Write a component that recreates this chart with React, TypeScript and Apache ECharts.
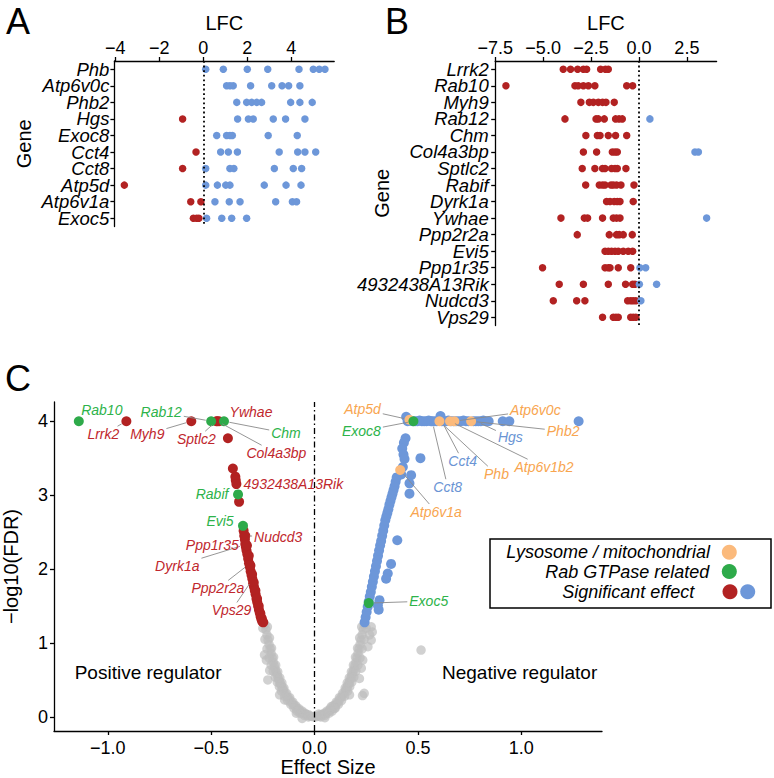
import React, { useEffect, useRef } from 'react';
import * as echarts from 'echarts';

const FONT = '"Liberation Sans", Arial, Helvetica, sans-serif';
const RED = '#B22222';
const BLUE = '#6D97D9';
const GREEN = '#2EAA4A';
const ORANGE = '#FBBA7C';
const GREY = '#BDBDBD';
const TXT_COLORS: Record<string, string> = { red: '#C0272D', blue: '#6A94D4', green: '#2DB34A', orange: '#F8A54F' };

// ---------------- Panel A ----------------
const aGenes = ['Phb', 'Atp6v0c', 'Phb2', 'Hgs', 'Exoc8', 'Cct4', 'Cct8', 'Atp5d', 'Atp6v1a', 'Exoc5'];
const aBlue = [
  [0.11, 0.91, 2.0, 2.93, 4.35, 5.0, 5.27, 5.53],
  [1.06, 1.21, 1.36, 2.15, 3.11, 3.58, 3.88, 4.39],
  [1.52, 1.97, 2.2, 2.43, 2.65, 3.97, 4.39, 4.95],
  [1.56, 2.05, 2.27, 3.18, 3.74, 4.62],
  [0.61, 1.06, 1.21, 1.32, 2.95, 4.27],
  [0.79, 1.14, 1.55, 3.45, 4.29, 4.62, 5.11],
  [0.11, 1.21, 1.39, 3.23, 4.09, 4.47],
  [0.11, 0.64, 1.02, 1.21, 2.77, 3.76, 4.44],
  [0.53, 1.18, 1.67, 3.29, 4.05, 4.24],
  [0.15, 0.84, 1.29, 1.97],
];
const aRed = [[], [], [], [-0.94], [], [-0.33], [-0.94], [-3.59], [-0.57, -0.11], [-0.45, -0.3, -0.2]];
const aTicks = [-4, -2, 0, 2, 4];

// ---------------- Panel B ----------------
const bGenes = ['Lrrk2', 'Rab10', 'Myh9', 'Rab12', 'Chm', 'Col4a3bp', 'Sptlc2', 'Rabif', 'Dyrk1a', 'Ywhae', 'Ppp2r2a', 'Evi5', 'Ppp1r35', '4932438A13Rik', 'Nudcd3', 'Vps29'];
const bRed = [
  [-3.95, -3.57, -3.2, -2.9, -2.73, -2.0, -1.75, -1.6],
  [-6.94, -3.34, -3.17, -2.9, -2.64, -2.3, -0.64, -0.33],
  [-3.03, -2.59, -2.38, -2.12, -1.9, -1.72, -1.29],
  [-3.86, -2.24, -2.12, -1.81, -1.22, -1.04, -0.87],
  [-2.77, -2.17, -2.03, -1.6, -1.22, -0.64],
  [-2.9, -2.21, -1.39, -1.25, -1.13],
  [-2.96, -2.3, -1.9, -1.77, -1.43, -1.25, -1.13, -0.68],
  [-2.78, -2.07, -1.9, -1.77, -1.46, -1.34, -1.17, -0.94, -0.26],
  [-1.69, -1.51, -1.29, -1.13, -0.99, -0.3],
  [-4.07, -2.85, -2.68, -1.9, -1.34, -1.17, -0.99],
  [-3.22, -1.55, -1.17, -1.03, -0.82, -0.35],
  [-1.77, -1.6, -1.43, -1.25, -1.08, -0.82, -0.56, -0.33],
  [-5.03, -1.77, -1.6, -1.51, -1.08, -0.43],
  [-4.16, -2.9, -1.6, -0.7, -0.33, -0.21],
  [-4.47, -3.25, -2.82, -0.59, -0.43, -0.3, -0.16],
  [-1.9, -1.34, -1.2, -1.08, -0.43, -0.3, -0.16],
];
const bBlue = [[], [], [], [0.57], [], [2.92, 3.1], [], [], [], [3.53], [], [], [0.05, 0.35], [0.02, 0.92], [0.1], []];
const bTicks = [-7.5, -5, -2.5, 0, 2.5];

// ---------------- Panel C (volcano) ----------------
const cGrey = [
  // left arm
  [-0.24, 1.25], [-0.235, 1.18], [-0.23, 1.11], [-0.225, 1.04], [-0.22, 0.98], [-0.215, 0.92], [-0.21, 0.86], [-0.205, 0.8],
  [-0.2, 0.74], [-0.195, 0.69], [-0.19, 0.64], [-0.185, 0.6], [-0.18, 0.56], [-0.175, 0.52], [-0.17, 0.48], [-0.165, 0.45],
  [-0.16, 0.42], [-0.155, 0.39], [-0.15, 0.36], [-0.14, 0.31], [-0.13, 0.27], [-0.12, 0.23], [-0.11, 0.19], [-0.1, 0.16],
  [-0.09, 0.13], [-0.08, 0.1], [-0.07, 0.08], [-0.06, 0.06], [-0.05, 0.045], [-0.04, 0.03], [-0.03, 0.02], [-0.02, 0.01], [-0.01, 0.005], [0, 0],
  [-0.228, 1.22], [-0.218, 1.07], [-0.208, 0.93], [-0.198, 0.81], [-0.188, 0.7], [-0.178, 0.61], [-0.168, 0.53], [-0.158, 0.46],
  [-0.148, 0.39], [-0.135, 0.32], [-0.12, 0.26], [-0.105, 0.2], [-0.09, 0.15], [-0.075, 0.11], [-0.06, 0.08], [-0.045, 0.05], [-0.03, 0.03],
  [-0.25, 1.2], [-0.24, 1.05], [-0.23, 0.92], [-0.22, 0.8], [-0.21, 0.7], [-0.2, 0.62], [-0.19, 0.54], [-0.18, 0.47], [-0.17, 0.41],
  [-0.16, 0.35], [-0.145, 0.28], [-0.13, 0.22], [-0.115, 0.17], [-0.1, 0.12], [-0.085, 0.08], [-0.07, 0.05], [-0.05, 0.02], [-0.03, 0.0],
  // right arm
  [0.24, 1.25], [0.235, 1.18], [0.23, 1.11], [0.225, 1.04], [0.22, 0.98], [0.215, 0.92], [0.21, 0.86], [0.205, 0.8],
  [0.2, 0.74], [0.195, 0.69], [0.19, 0.64], [0.185, 0.6], [0.18, 0.56], [0.175, 0.52], [0.17, 0.48], [0.165, 0.45],
  [0.16, 0.42], [0.155, 0.39], [0.15, 0.36], [0.14, 0.31], [0.13, 0.27], [0.12, 0.23], [0.11, 0.19], [0.1, 0.16],
  [0.09, 0.13], [0.08, 0.1], [0.07, 0.08], [0.06, 0.06], [0.05, 0.045], [0.04, 0.03], [0.03, 0.02], [0.02, 0.01], [0.01, 0.005],
  [0.228, 1.22], [0.218, 1.07], [0.208, 0.93], [0.198, 0.81], [0.188, 0.7], [0.178, 0.61], [0.168, 0.53], [0.158, 0.46],
  [0.148, 0.39], [0.135, 0.32], [0.12, 0.26], [0.105, 0.2], [0.09, 0.15], [0.075, 0.11], [0.06, 0.08], [0.045, 0.05], [0.03, 0.03],
  [0.25, 1.2], [0.24, 1.05], [0.23, 0.92], [0.22, 0.8], [0.21, 0.7], [0.2, 0.62], [0.19, 0.54], [0.18, 0.47], [0.17, 0.41],
  [0.16, 0.35], [0.145, 0.28], [0.13, 0.22], [0.115, 0.17], [0.1, 0.12], [0.085, 0.08], [0.07, 0.05], [0.05, 0.02], [0.03, 0.0],
  // scattered
  [0.515, 0.905], [0.274, 1.22], [0.279, 1.15], [0.266, 1.11], [0.274, 1.04], [0.258, 0.95], [0.233, 0.77], [0.226, 0.66],
  [0.217, 0.52], [0.24, 0.32], [0.232, 0.29], [0.169, 0.3], [0.097, 0.12], [0.081, 0.14], [-0.242, 0.84], [-0.233, 0.77],
  [-0.217, 0.63], [-0.226, 0.5], [-0.169, 0.3], [-0.145, 0.23], [-0.088, 0.05], [-0.06, -0.02], [0.05, -0.01], [0.02, 0.04],
];
const cRed = [
  [-0.91, 4.0], [-0.596, 4.0], [-0.475, 4.0], [-0.47, 4.0], [-0.462, 4.0], [-0.419, 3.77],
  [-0.395, 3.36], [-0.383, 3.25], [-0.381, 3.2], [-0.378, 3.15], [-0.365, 2.91],
  [-0.343, 2.52], [-0.34, 2.45], [-0.337, 2.4], [-0.335, 2.34], [-0.332, 2.3], [-0.329, 2.25], [-0.325, 2.2], [-0.321, 2.14],
  [-0.317, 2.08], [-0.313, 2.03], [-0.309, 1.97], [-0.305, 1.92], [-0.301, 1.87], [-0.297, 1.81], [-0.293, 1.76], [-0.289, 1.71],
  [-0.285, 1.66], [-0.281, 1.6], [-0.277, 1.55], [-0.273, 1.5], [-0.269, 1.45], [-0.265, 1.41], [-0.261, 1.36], [-0.257, 1.32], [-0.253, 1.29],
  [-0.335, 2.45], [-0.327, 2.32], [-0.318, 2.18], [-0.31, 2.05], [-0.302, 1.93], [-0.294, 1.82], [-0.286, 1.71], [-0.278, 1.6],
  [-0.27, 1.5], [-0.262, 1.4], [-0.255, 1.33], [-0.248, 1.28],
];
const cBlue = [
  // top row
  [0.443, 4.06], [0.45, 4.0], [0.462, 4.01], [0.475, 4.0], [0.486, 4.0], [0.497, 4.0], [0.508, 4.01], [0.519, 4.0], [0.53, 4.0],
  [0.541, 4.0], [0.552, 4.01], [0.563, 4.0], [0.569, 4.0], [0.58, 4.0], [0.591, 4.0], [0.609, 4.07], [0.615, 4.0], [0.625, 4.0],
  [0.636, 4.0], [0.647, 4.01], [0.66, 4.0], [0.672, 4.0], [0.684, 4.0], [0.696, 4.0], [0.708, 4.0], [0.72, 4.01], [0.732, 4.0],
  [0.744, 4.0], [0.768, 4.0], [0.78, 4.0], [0.792, 4.0], [0.804, 4.0], [0.816, 4.01], [0.828, 4.0], [0.842, 4.0], [0.91, 4.0],
  [0.942, 4.0], [1.277, 4.0],
  // column below the top row
  [0.44, 3.77], [0.432, 3.71], [0.424, 3.63], [0.43, 3.55], [0.435, 3.49], [0.427, 3.38], [0.419, 3.28], [0.512, 3.5],
  [0.467, 3.27], [0.459, 3.16], [0.459, 3.02],
  // isolated
  [0.4, 2.39], [0.37, 2.07], [0.354, 1.94], [0.346, 1.87], [0.314, 1.58], [0.306, 1.51], [0.31, 1.45],
  // band
  [0.242, 1.28], [0.247, 1.35], [0.252, 1.42], [0.257, 1.49], [0.262, 1.56], [0.267, 1.63], [0.272, 1.69], [0.277, 1.76],
  [0.282, 1.83], [0.287, 1.9], [0.292, 1.97], [0.297, 2.04], [0.302, 2.11], [0.307, 2.18], [0.312, 2.25], [0.317, 2.32],
  [0.322, 2.38], [0.327, 2.45], [0.332, 2.52], [0.337, 2.59], [0.342, 2.66], [0.347, 2.71], [0.352, 2.76], [0.357, 2.81],
  [0.362, 2.87], [0.367, 2.92], [0.372, 2.97], [0.377, 3.02], [0.382, 3.07], [0.387, 3.12], [0.392, 3.18], [0.397, 3.24],
];
const cOrange = [[0.459, 4.02], [0.604, 4.0], [0.655, 4.0], [0.676, 4.0], [0.757, 4.0], [0.414, 3.34]];
const cGreen = [[-1.14, 4.0], [-0.5, 4.0], [-0.438, 4.0], [-0.37, 3.01], [-0.346, 2.585], [0.478, 4.0], [0.262, 1.54]];
const cxTicks = [-1, -0.5, 0, 0.5, 1];
const cyTicks = [0, 1, 2, 3, 4];

// labelled genes in panel C
const cLabelGenes = ['Rab10', 'Lrrk2', 'Myh9', 'Rab12', 'Ywhae', 'Sptlc2', 'Chm', 'Col4a3bp', '4932438A13Rik', 'Rabif', 'Evi5',
  'Nudcd3', 'Ppp1r35', 'Dyrk1a', 'Ppp2r2a', 'Vps29', 'Atp5d', 'Exoc8', 'Atp6v0c', 'Phb2', 'Hgs', 'Cct4', 'Cct8', 'Phb',
  'Atp6v1b2', 'Atp6v1a', 'Exoc5'];
const cLabelX = [-1.14, -0.91, -0.596, -0.5, -0.462, -0.475, -0.438, -0.47, -0.378, -0.37, -0.346, -0.34, -0.342, -0.335,
  -0.315, -0.3, 0.459, 0.478, 0.676, 0.757, 0.78, 0.615, 0.569, 0.604, 0.655, 0.414, 0.262];
const cLabelY = [4, 4, 4, 4, 4, 4, 4, 4, 3.15, 3.01, 2.585, 2.45, 2.4, 2.33, 2.07, 1.86, 4.02, 4, 4, 4, 4, 4, 4, 4, 4, 3.34, 1.54];
const cLabelGroup = ['green', 'red', 'red', 'green', 'red', 'red', 'green', 'red', 'red', 'green', 'green', 'red', 'red', 'red',
  'red', 'red', 'orange', 'green', 'orange', 'orange', 'blue', 'blue', 'blue', 'orange', 'orange', 'orange', 'green'];
// label placement (pixel offsets of label centre from its point) and whether a leader line is drawn
const cLabelOffset = [[23, -11], [-23, 13], [-44, 13], [-50, -9], [32, -9], [-20, 18], [62, 12], [59, 32], [57, 0], [-26, 0],
  [-23, -5], [34, 1], [-31.5, 5], [-68, 21], [-31.5, 24.5], [-21, 31], [-47, -10.5], [-52, 10], [81, -11], [92, 10],
  [34.5, 16], [21, 40], [15.5, 66], [57, 53], [94, 46], [36, 42], [60, -2]];
const cLabelLine = [false, true, true, true, false, true, true, true, false, false, false, true, false, true, true, true,
  true, true, true, true, true, true, true, true, true, true, true];

const legendItems = ['Lysosome / mitochondrial', 'Rab GTPase related', 'Significant effect'];

const fmtInt = (v: number) => (v < 0 ? '\u2212' + Math.abs(v) : String(v));
const fmt1 = (v: number) => (v < 0 ? '\u2212' + Math.abs(v).toFixed(1) : v.toFixed(1));

const AXIS_LINE = { color: '#000', width: 1.3 };

function valueAxis(gridIndex: number, min: number, max: number, ticks: number[], fmt: (v: number) => string,
  position: string, name: string, nameGap: number, margin: number, rotateName = false) {
  return {
    gridIndex, type: 'value', position, min, max, name, nameLocation: 'middle', nameGap,
    nameRotate: rotateName ? 90 : 0, nameMoveOverlap: false,
    nameTextStyle: { fontSize: 20, color: '#000', fontFamily: FONT },
    axisLine: { show: true, onZero: false, lineStyle: AXIS_LINE },
    axisTick: { show: true, length: 4, customValues: ticks, lineStyle: AXIS_LINE },
    axisLabel: { customValues: ticks, formatter: fmt, fontSize: 18, color: '#000', fontFamily: FONT, margin },
    splitLine: { show: false },
  };
}

function catAxis(gridIndex: number, genes: string[], nameGap: number, margin: number) {
  return {
    gridIndex, type: 'category', data: genes, inverse: true, boundaryGap: true,
    name: 'Gene', nameLocation: 'middle', nameGap, nameRotate: 90, nameMoveOverlap: false,
    nameTextStyle: { fontSize: 20, color: '#000', fontFamily: FONT },
    axisLine: { show: true, onZero: false, lineStyle: AXIS_LINE },
    axisTick: { show: true, length: 4, alignWithLabel: true, lineStyle: AXIS_LINE },
    axisLabel: { interval: 0, fontSize: 18.5, lineHeight: 15, fontStyle: 'italic', color: '#000', fontFamily: FONT, margin },
    splitLine: { show: false },
  };
}

function pairs(genes: string[], vals: number[][]) {
  const out: any[] = [];
  genes.forEach((g, i) => vals[i].forEach((v) => out.push([v, g])));
  return out;
}

function buildOption() {
  const dotted = {
    silent: true, symbol: ['none', 'none'], label: { show: false },
    lineStyle: { type: [1.8, 2.8], color: '#000', width: 1.8 }, data: [{ xAxis: 0 }],
  };
  const scat = (x: number, data: any[], color: string, size: number, extra: any = {}) => ({
    type: 'scatter', xAxisIndex: x, yAxisIndex: x, data, symbolSize: size,
    itemStyle: { color, opacity: 1 }, emphasis: { disabled: true }, ...extra,
  });
  return {
    animation: false,
    textStyle: { fontFamily: FONT },
    grid: [
      { left: 114.4, top: 61, width: 219.8, height: 165.5, outerBoundsMode: 'none', containLabel: false },
      { left: 495.2, top: 61, width: 221.4, height: 264.6, outerBoundsMode: 'none', containLabel: false },
      { left: 54, top: 402, width: 548, height: 329, outerBoundsMode: 'none', containLabel: false },
    ],
    xAxis: [
      valueAxis(0, -4.04, 5.95, aTicks, fmtInt, 'top', 'LFC', 28, 4),
      valueAxis(1, -7.5, 4.05, bTicks, fmt1, 'top', 'LFC', 28, 4),
      valueAxis(2, -1.26, 1.39, cxTicks, fmt1, 'bottom', 'Effect Size', 26, 8),
    ],
    yAxis: [
      catAxis(0, aGenes, 80, 5),
      catAxis(1, bGenes, 103, 6.5),
      valueAxis(2, -0.19, 4.26, cyTicks, fmtInt, 'left', '\u2212log10(FDR)', 33, 6, true),
    ],
    series: [
      scat(0, pairs(aGenes, aRed), RED, 7.5, { markLine: dotted }),
      scat(0, pairs(aGenes, aBlue), BLUE, 7.5),
      scat(1, pairs(bGenes, bRed), RED, 7.5, { markLine: dotted }),
      scat(1, pairs(bGenes, bBlue), BLUE, 7.5),
      scat(2, cGrey, GREY, 9.5, {
        itemStyle: { color: GREY, opacity: 0.7 },
        markLine: {
          silent: true, symbol: ['none', 'none'], label: { show: false },
          lineStyle: { type: [6, 3, 1.5, 3], color: '#000', width: 1.3 }, data: [{ xAxis: 0 }],
        },
      }),
      scat(2, cRed, RED, 10),
      scat(2, cBlue, BLUE, 10),
      scat(2, cOrange, ORANGE, 10),
      scat(2, cGreen, GREEN, 10),
    ],
  };
}

function buildGraphic(chart: any) {
  const g: any[] = [];
  const text = (t: string, x: number, y: number, style: any = {}) => ({
    type: 'text', x, y, z: 100, silent: true,
    style: { text: t, fill: '#000', fontFamily: FONT, fontSize: 18, align: 'center', verticalAlign: 'middle', ...style },
  });
  g.push(text('A', 18, 21, { fontSize: 36 }));
  g.push(text('B', 397, 21, { fontSize: 36 }));
  g.push(text('C', 18, 378, { fontSize: 36 }));

  // region annotations
  const pos = chart.convertToPixel({ gridIndex: 2 }, [-1.16, 0.6]);
  g.push(text('Positive regulator', pos[0], pos[1], { align: 'left', fontSize: 19 }));
  const neg = chart.convertToPixel({ gridIndex: 2 }, [1.367, 0.6]);
  g.push(text('Negative regulator', neg[0], neg[1], { align: 'right', fontSize: 19 }));

  // gene labels with leader lines
  const ctx = document.createElement('canvas').getContext('2d') as CanvasRenderingContext2D;
  ctx.font = 'italic 14px ' + FONT;
  cLabelGenes.forEach((name, i) => {
    const p = chart.convertToPixel({ gridIndex: 2 }, [cLabelX[i], cLabelY[i]]);
    const [dx, dy] = cLabelOffset[i];
    const lx = p[0] + dx;
    const ly = p[1] + dy;
    if (cLabelLine[i]) {
      const w = ctx.measureText(name).width;
      const hw = w / 2 + 2;
      const hh = 8;
      const len = Math.hypot(dx, dy);
      const t = Math.min(dx !== 0 ? hw / Math.abs(dx) : Infinity, dy !== 0 ? hh / Math.abs(dy) : Infinity);
      const ex = lx - dx * t;
      const ey = ly - dy * t;
      const sx = p[0] + (dx / len) * 5.5;
      const sy = p[1] + (dy / len) * 5.5;
      if (t < 1 && Math.hypot(ex - p[0], ey - p[1]) > 7) {
        g.push({ type: 'line', z: 95, silent: true, shape: { x1: sx, y1: sy, x2: ex, y2: ey }, style: { stroke: '#8A8A8A', lineWidth: 0.9 } });
      }
    }
    g.push(text(name, lx, ly, { fontSize: 14, lineHeight: 13, fontStyle: 'italic', fill: TXT_COLORS[cLabelGroup[i]] }));
  });

  // legend
  g.push({ type: 'rect', z: 90, silent: true, shape: { x: 490, y: 539, width: 281, height: 69 }, style: { fill: '#fff', stroke: '#000', lineWidth: 1.5 } });
  g.push(text(legendItems[0], 710, 552.3, { align: 'right', fontStyle: 'italic' }));
  g.push(text(legendItems[1], 709.3, 571.7, { align: 'right', fontStyle: 'italic' }));
  g.push(text(legendItems[2], 694.3, 591.7, { align: 'right', fontStyle: 'italic' }));
  const circ = (cx: number, cy: number, fill: string) => ({ type: 'circle', z: 100, silent: true, shape: { cx, cy, r: 7.5 }, style: { fill } });
  g.push(circ(729.3, 552.3, ORANGE));
  g.push(circ(729.3, 571.5, GREEN));
  g.push(circ(730, 591.7, RED));
  g.push(circ(747.7, 591.7, BLUE));
  return g;
}

export default function App() {
  const ref = useRef<HTMLDivElement>(null);
  useEffect(() => {
    const chart = echarts.init(ref.current as HTMLDivElement, null, { renderer: 'svg' });
    chart.setOption(buildOption() as any);
    chart.setOption({ graphic: buildGraphic(chart) } as any);
    return () => chart.dispose();
  }, []);
  return <div ref={ref} style={{ position: 'absolute', left: 0, top: 0, width: 774, height: 778, background: '#fff' }} />;
}
